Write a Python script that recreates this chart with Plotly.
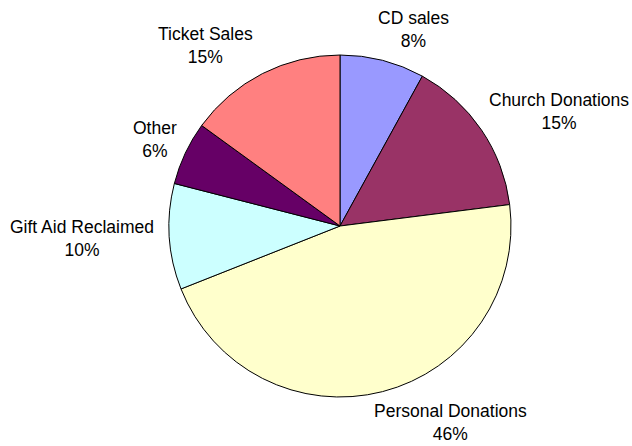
import math
import plotly.graph_objects as go

categories = ["CD sales", "Church Donations", "Personal Donations",
              "Gift Aid Reclaimed", "Other", "Ticket Sales"]
shares = [8, 15, 46, 10, 6, 15]
colors = ["#9999FF", "#993366", "#FFFFCC", "#CCFFFF", "#660066", "#FF8080"]

W, H = 632, 446
CX, CY = 340, 226          # pie centre (pixels from top-left)
R_PIE = 171                # pie radius in pixels
R_ANCHOR = 180             # where label boxes touch the slice's mid-angle ray
FONT_SIZE = 17.5
BOX_H = 46                 # approx height of a two-line label

font = dict(family="Liberation Sans, Arial, sans-serif", size=FONT_SIZE, color="#000000")

fig = go.Figure(go.Pie(
    labels=categories,
    values=shares,
    sort=False,
    direction="clockwise",
    rotation=0,
    marker=dict(colors=colors, line=dict(color="#000000", width=1)),
    textinfo="none",
    domain=dict(x=[(CX - R_PIE) / W, (CX + R_PIE) / W],
                y=[1 - (CY + R_PIE) / H, 1 - (CY - R_PIE) / H]),
    showlegend=False,
    hoverinfo="label+percent",
))

# Excel-style outside-end labels, placed from each slice's mid angle
total = sum(shares)
annotations = []
cum = 0.0
for name, v in zip(categories, shares):
    theta = 2 * math.pi * (cum + v / 2) / total
    cum += v
    s, c = math.sin(theta), math.cos(theta)
    px = CX + R_ANCHOR * s
    py = CY - R_ANCHOR * c
    text = f"{name}<br>{round(100 * v / total)}%"
    w_est = len(name) * FONT_SIZE * 0.5
    frac_left = 0.5 - 0.5 * max(-1.0, min(1.0, s / 0.3))
    cx = px + (0.5 - frac_left) * w_est
    annotations.append(dict(
        x=cx / W, y=1 - py / H, xref="paper", yref="paper",
        text=text, showarrow=False, font=font, align="center",
        xanchor="center", yanchor="middle",
        yshift=BOX_H * c / 2,
    ))

fig.update_layout(
    width=W, height=H,
    margin=dict(l=0, r=0, t=0, b=0, autoexpand=False),
    paper_bgcolor="white",
    plot_bgcolor="white",
    annotations=annotations,
)

fig.write_html("out.html", config={"displayModeBar": False},
               post_script="document.body.style.margin='0';")
